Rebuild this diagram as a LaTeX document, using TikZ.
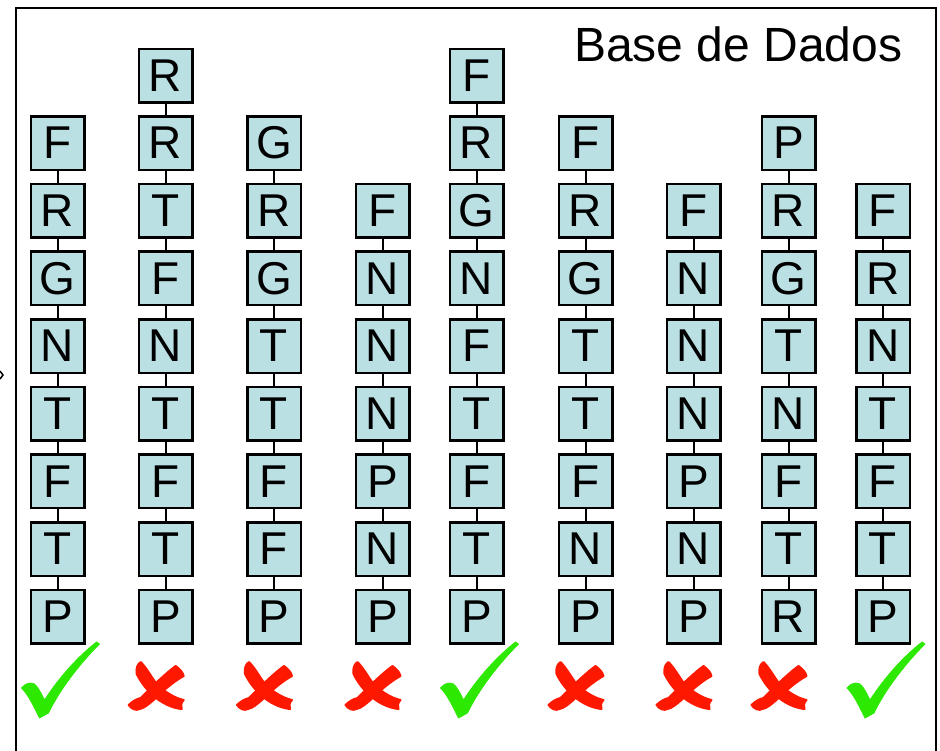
\documentclass[tikz,border=0pt]{standalone}
\usepackage{fontspec}
\setmainfont{Liberation Sans}
\definecolor{boxfill}{RGB}{187,224,227}
\definecolor{okgreen}{RGB}{45,232,0}
\definecolor{badred}{RGB}{255,24,0}
\newcommand\okmark[1]{%
  \filldraw[okgreen,line width=0.8pt,line join=round,shift={(#1,0)}] (-36,688) .. controls (-32,684) .. (-27,683)
    .. controls (-22,682) and (-18,690) .. (-13,700)
    .. controls (2,677) and (20,657) .. (39,642) -- (42,644)
    .. controls (22,664) and (2,690) .. (-9,713) -- (-18,718)
    .. controls (-24,706) and (-29,695) .. cycle;}
\newcommand\badmark[1]{%
  \begin{scope}[shift={(#1,688)}]
  \filldraw[badred,line width=2pt,line join=round] (-16,-26) .. controls (-10,-20) and (-6,-12) .. (0,-4)
    .. controls (8,4) and (18,10) .. (27,12)
    .. controls (24,15) and (24,18) .. (25,21)
    .. controls (15,20) and (5,15) .. (-3,8)
    .. controls (-10,2) and (-16,-6) .. (-20,-14)
    .. controls (-21,-20) and (-19,-24) .. cycle;
  \filldraw[badred,line width=2pt,line join=round] (19,-22) .. controls (23,-19) and (26,-16) .. (27,-12)
    .. controls (16,-6) and (5,4) .. (-3,12)
    .. controls (-8,16) and (-12,20) .. (-17,21)
    .. controls (-21,23) and (-25,21) .. (-28,17)
    .. controls (-24,13) and (-20,11) .. (-16,10)
    .. controls (-6,0) and (8,-14) .. cycle;
  \end{scope}}
\begin{document}
\begin{tikzpicture}[x=1pt,y=-1pt,
  box/.style={draw=black,line width=2.5pt,fill=boxfill,minimum size=53.5pt,inner sep=0pt,
    font=\fontsize{46}{46}\selectfont},
  link/.style={draw=black,line width=2pt},
  frame/.style={draw=black,line width=2.5pt}]
\useasboundingbox (0,0) rectangle (940,750);
\draw[frame] (16,770) -- (16,8) -- (936,8) -- (936,770);
\draw[line width=1.5pt] (0,371) -- (3,375) -- (0,379);
\node[anchor=base west,inner sep=0pt,font=\fontsize{48}{48}\selectfont] (title) at (574,61.5) {Base de Dados};
\foreach \cx/\letters/\n [count=\c] in {
  57.5/{F,R,G,N,T,F,T,P}/8,
  165.5/{R,R,T,F,N,T,F,T,P}/9,
  274/{G,R,G,T,T,F,F,P}/8,
  382.5/{F,N,N,N,P,N,P}/7,
  476.5/{F,R,G,N,F,T,F,T,P}/9,
  585.5/{F,R,G,T,T,F,N,P}/8,
  693.5/{F,N,N,N,P,N,P}/7,
  788.5/{P,R,G,T,N,F,T,R}/8,
  883/{F,R,N,T,F,T,P}/7}{
  \foreach \L [count=\i] in \letters {
    \pgfmathsetmacro\yy{75.5+67.65*(9-\n+\i-1)}
    \node[box] (n\c-\i) at (\cx,\yy) {\L};
    \ifnum\i>1
      \pgfmathtruncatemacro\j{\i-1}
      \draw[link] (n\c-\j) -- (n\c-\i);
    \fi
  }
}
\okmark{57.5}
\badmark{156.7}
\badmark{265}
\badmark{373.5}
\okmark{476.5}
\badmark{576.5}
\badmark{684.5}
\badmark{779.5}
\okmark{883}
\end{tikzpicture}
\end{document}
